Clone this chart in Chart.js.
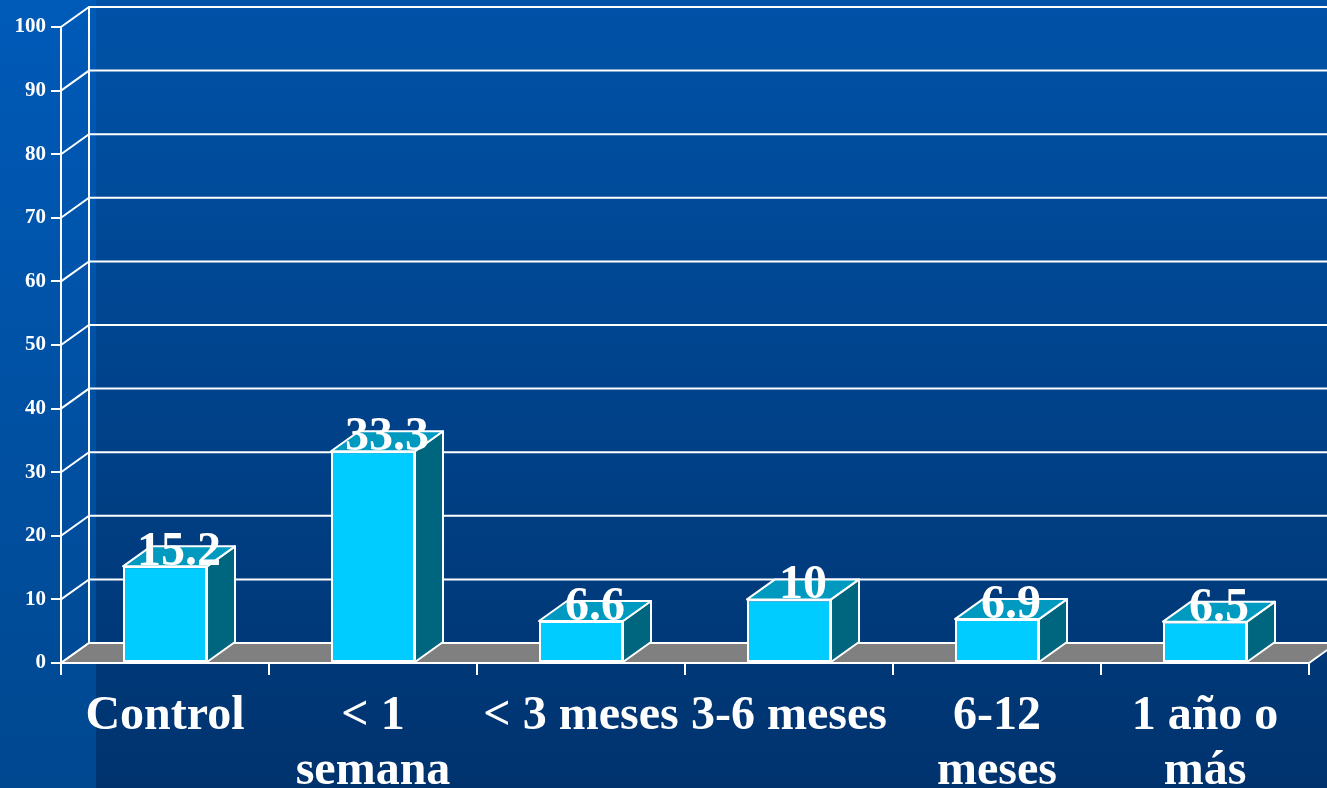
<!DOCTYPE html>
<html>
<head>
<meta charset="utf-8">
<script src="https://cdn.jsdelivr.net/npm/chart.js@4/dist/chart.umd.min.js"></script>
<style>
  html, body { margin: 0; padding: 0; background: #00408a; }
  #wrap { width: 1327px; height: 788px; position: relative; }
</style>
</head>
<body>
<div id="wrap"><canvas id="chart"></canvas></div>
<script>
// Categories (multi-line where the slide wraps them) and the percentages shown.
const CATEGORIES = [["Control"], ["< 1", "semana"], ["< 3 meses"], ["3-6 meses"], ["6-12", "meses"], ["1 año o", "más"]];
const VALUES = [15.2, 33.3, 6.6, 10, 6.9, 6.5];
const VALUE_LABELS = ["15.2", "33.3", "6.6", "10", "6.9", "6.5"];
const Y_MIN = 0, Y_MAX = 100, Y_STEP = 10;

// 3D depth offset of the back wall relative to the front plane.
const DX = 28, DY = 20;
const SERIF = "'Liberation Serif', 'Times New Roman', serif";

const threeD = {
  id: "threeD",
  beforeDraw(chart) {
    const { ctx, width, height } = chart;
    ctx.save();
    let g = ctx.createLinearGradient(0, 0, 0, height);
    g.addColorStop(0, "#0052a8");
    g.addColorStop(1, "#00336e");
    ctx.fillStyle = g;
    ctx.fillRect(0, 0, width, height);
    // lighter slide strip on the far left
    g = ctx.createLinearGradient(0, 0, 0, height);
    g.addColorStop(0, "#005ab8");
    g.addColorStop(1, "#004890");
    ctx.fillStyle = g;
    ctx.fillRect(0, 0, 96, height);
    ctx.restore();
  },
  beforeDatasetsDraw(chart) {
    const { ctx, chartArea: a, width } = chart;
    const y = chart.scales.y;
    ctx.save();
    ctx.strokeStyle = "#ffffff";
    ctx.lineWidth = 2;
    // back wall grid lines + connectors to the front axis
    for (let v = Y_MIN; v <= Y_MAX; v += Y_STEP) {
      const py = y.getPixelForValue(v);
      ctx.beginPath();
      ctx.moveTo(a.left, py);
      ctx.lineTo(a.left + DX, py - DY);
      if (v > Y_MIN) ctx.lineTo(width, py - DY);
      ctx.stroke();
    }
    // left wall back edge
    ctx.beginPath();
    ctx.moveTo(a.left + DX, y.getPixelForValue(Y_MAX) - DY);
    ctx.lineTo(a.left + DX, y.getPixelForValue(Y_MIN) - DY);
    ctx.stroke();
    // floor
    const fy = y.getPixelForValue(Y_MIN);
    ctx.beginPath();
    ctx.moveTo(a.left, fy);
    ctx.lineTo(a.right, fy);
    ctx.lineTo(a.right + DX, fy - DY);
    ctx.lineTo(a.left + DX, fy - DY);
    ctx.closePath();
    ctx.fillStyle = "#808080";
    ctx.fill();
    ctx.stroke();
    ctx.restore();
  },
  afterDatasetsDraw(chart) {
    const { ctx } = chart;
    const meta = chart.getDatasetMeta(0);
    ctx.save();
    ctx.strokeStyle = "#ffffff";
    ctx.lineWidth = 2;
    ctx.lineJoin = "round";
    meta.data.forEach((bar) => {
      const { x, y, base, width: w } = bar.getProps(["x", "y", "base", "width"], true);
      const l = x - w / 2, r = x + w / 2;
      // side face
      ctx.beginPath();
      ctx.moveTo(r, base);
      ctx.lineTo(r + DX, base - DY);
      ctx.lineTo(r + DX, y - DY);
      ctx.lineTo(r, y);
      ctx.closePath();
      ctx.fillStyle = "#00667f";
      ctx.fill();
      ctx.stroke();
      // top face
      ctx.beginPath();
      ctx.moveTo(l, y);
      ctx.lineTo(l + DX, y - DY);
      ctx.lineTo(r + DX, y - DY);
      ctx.lineTo(r, y);
      ctx.closePath();
      ctx.fillStyle = "#0099bf";
      ctx.fill();
      ctx.stroke();
    });
    // value labels
    ctx.fillStyle = "#ffffff";
    ctx.font = "bold 48px " + SERIF;
    ctx.textAlign = "center";
    ctx.textBaseline = "alphabetic";
    meta.data.forEach((bar, i) => {
      const { x, y } = bar.getProps(["x", "y"], true);
      ctx.fillText(VALUE_LABELS[i], x + DX / 2, y - 1);
    });
    ctx.restore();
  },
};

new Chart(document.getElementById("chart"), {
  type: "bar",
  data: {
    labels: CATEGORIES,
    datasets: [{
      data: VALUES,
      backgroundColor: "#00ccff",
      borderColor: "#ffffff",
      borderWidth: 2,
      borderSkipped: false,
      categoryPercentage: 1,
      barPercentage: 0.404,
    }],
  },
  options: {
    responsive: true, maintainAspectRatio: false,
    animation: false,
    layout: { padding: { top: 27, right: 18, left: 0, bottom: 0 } },
    plugins: { legend: { display: false }, tooltip: { enabled: false } },
    scales: {
      x: {
        offset: true,
        afterFit(s) { s.height = 125; },
        grid: { display: true, drawOnChartArea: false, drawTicks: true, offset: true, tickLength: 12, color: "#ffffff", lineWidth: 2 },
        border: { display: true, color: "#ffffff", width: 2 },
        ticks: {
          color: "#ffffff", padding: 14, maxRotation: 0, autoSkip: false,
          font: { family: SERIF, size: 48, weight: "bold", lineHeight: 1.15 },
        },
      },
      y: {
        min: Y_MIN, max: Y_MAX,
        afterFit(s) { s.width = 61; },
        grid: { display: true, drawOnChartArea: false, drawTicks: true, tickLength: 10, color: "#ffffff", lineWidth: 2 },
        border: { display: true, color: "#ffffff", width: 2 },
        ticks: {
          stepSize: Y_STEP, color: "#ffffff", padding: 5,
          font: { family: SERIF, size: 21, weight: "bold" },
        },
      },
    },
  },
  plugins: [threeD],
});
</script>
</body>
</html>
